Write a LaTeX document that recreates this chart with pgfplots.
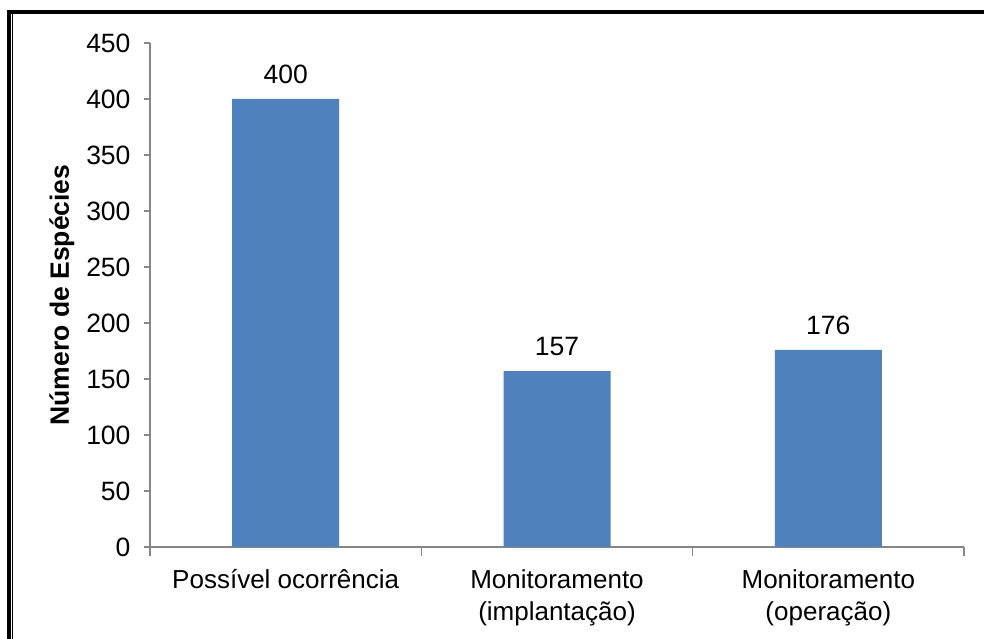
\documentclass[border=0pt]{standalone}
\usepackage{pgfplots}
\pgfplotsset{compat=1.18}
\usepackage{fontspec}
\setmainfont{Liberation Sans}
\definecolor{barblue}{HTML}{4F81BD}
\definecolor{axisgray}{HTML}{868686}
\begin{document}
\begin{tikzpicture}
\useasboundingbox (0pt,0pt) rectangle (984pt,639pt);
% frame of the screenshot
\draw[line width=4pt] (7pt,627pt) -- (984pt,627pt);
\draw[line width=3.5pt] (9pt,0pt) -- (9pt,629pt);
\draw[line width=1.2pt] (12.6pt,0pt) -- (12.6pt,625pt);
\begin{axis}[
    at={(150pt,92pt)}, anchor=south west,
    scale only axis, width=814pt, height=504pt,
    ybar, bar width=107pt,
    xmin=-0.5, xmax=2.5,
    ymin=0, ymax=450,
    ytick={0,50,...,450},
    xtick={0,1,2},
    xticklabels={Possível ocorrência,Monitoramento\\(implantação),Monitoramento\\(operação)},
    minor xtick={-0.5,0.5,1.5,2.5},
    major x tick style={draw=none},
    minor tick length=9pt,
    major tick length=6pt,
    tick align=outside,
    xtick pos=bottom, ytick pos=left,
    axis x line*=bottom, axis y line*=left,
    axis line style={axisgray, line width=1.2pt, -},
    tick style={axisgray, line width=1.2pt},
    /pgf/number format/assume math mode=true,
    yticklabel style={font=\fontsize{26.5}{32}\selectfont, text=black, xshift=-10pt},
    xticklabel style={font=\fontsize{26}{32}\selectfont, text=black, align=center, yshift=-13pt},
    every axis y label/.style={at={(rel axis cs:0,0.5)}, xshift=-88pt, rotate=90, anchor=center},
    ylabel={\bfseries Número de Espécies},
    ylabel style={font=\fontsize{26.5}{30}\selectfont},
    nodes near coords,
    every node near coord/.append style={font=\fontsize{26.5}{30}\selectfont, text=black, yshift=12pt},
]
\addplot[fill=barblue, draw=none] coordinates {(0,400) (1,157) (2,176)};
\end{axis}
\end{tikzpicture}
\end{document}
